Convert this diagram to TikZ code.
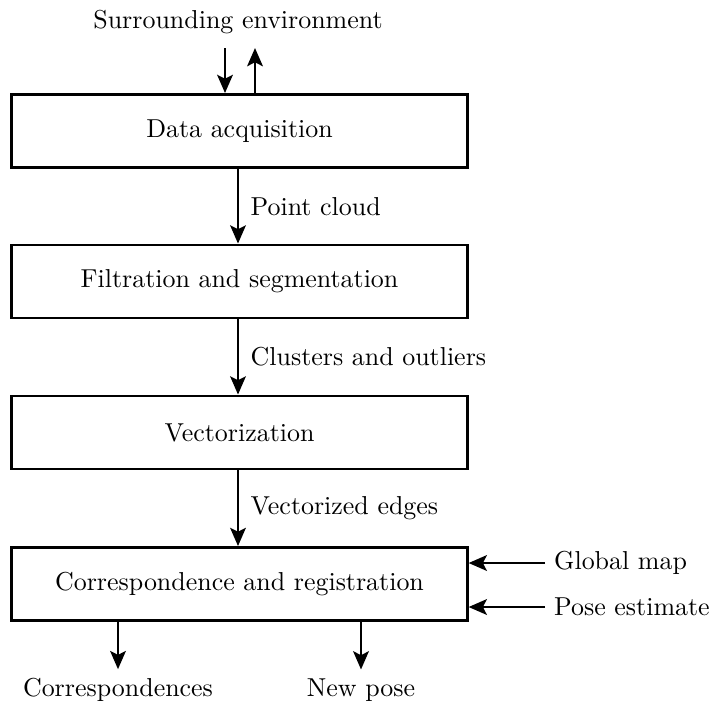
\documentclass[tikz,border=0pt]{standalone}
\usepackage{tikz}
\usetikzlibrary{arrows.meta}

\begin{document}
\begin{tikzpicture}[x=0.01355cm, y=-0.01355cm,
    block/.style={draw, line width=1.1pt, minimum width=6.17cm, minimum height=0.99cm, inner sep=0pt},
    flow/.style={-{Stealth[length=7pt, width=6pt, inset=1.5pt]}, line width=1.1pt}]
  \useasboundingbox (0,0) rectangle (713,702);
  % Bloecke
  \node[block] (acq) at (239.5,131) {Data acquisition};
  \node[block] (filt) at (239.5,281.5) {Filtration and segmentation};
  \node[block] (vec) at (239.5,432.5) {Vectorization};
  \node[block] (reg) at (239.5,584) {Correspondence and registration};
  % Umgebung
  \node (env) at (238,22) {Surrounding environment};
  \coordinate (inA) at (225,48);
  \coordinate (outA) at (255,48);
  \draw[flow] (inA) -- (inA |- acq.north);
  \draw[flow] (outA |- acq.north) -- (outA);
  % Pfeile zwischen den Bloecken
  \draw[flow] (acq.south -| 238,0) -- (filt.north -| 238,0)
    node[midway, right=1pt] {Point cloud};
  \draw[flow] (filt.south -| 238,0) -- (vec.north -| 238,0)
    node[midway, right=1pt] {Clusters and outliers};
  \draw[flow] (vec.south -| 238,0) -- (reg.north -| 238,0)
    node[midway, right=1pt] {Vectorized edges};
  % Eingaenge rechts
  \node[anchor=west] (map) at (545,563) {Global map};
  \node[anchor=west] (pose) at (545,607) {Pose estimate};
  \draw[flow] (map.west) -- (map.west -| reg.east);
  \draw[flow] (pose.west) -- (pose.west -| reg.east);
  % Ausgaenge unten
  \node (corr) at (118,690) {Correspondences};
  \node (newp) at (361,690) {New pose};
  \draw[flow] (corr |- reg.south) -- (corr.north);
  \draw[flow] (newp |- reg.south) -- (newp.north);
\end{tikzpicture}
\end{document}
